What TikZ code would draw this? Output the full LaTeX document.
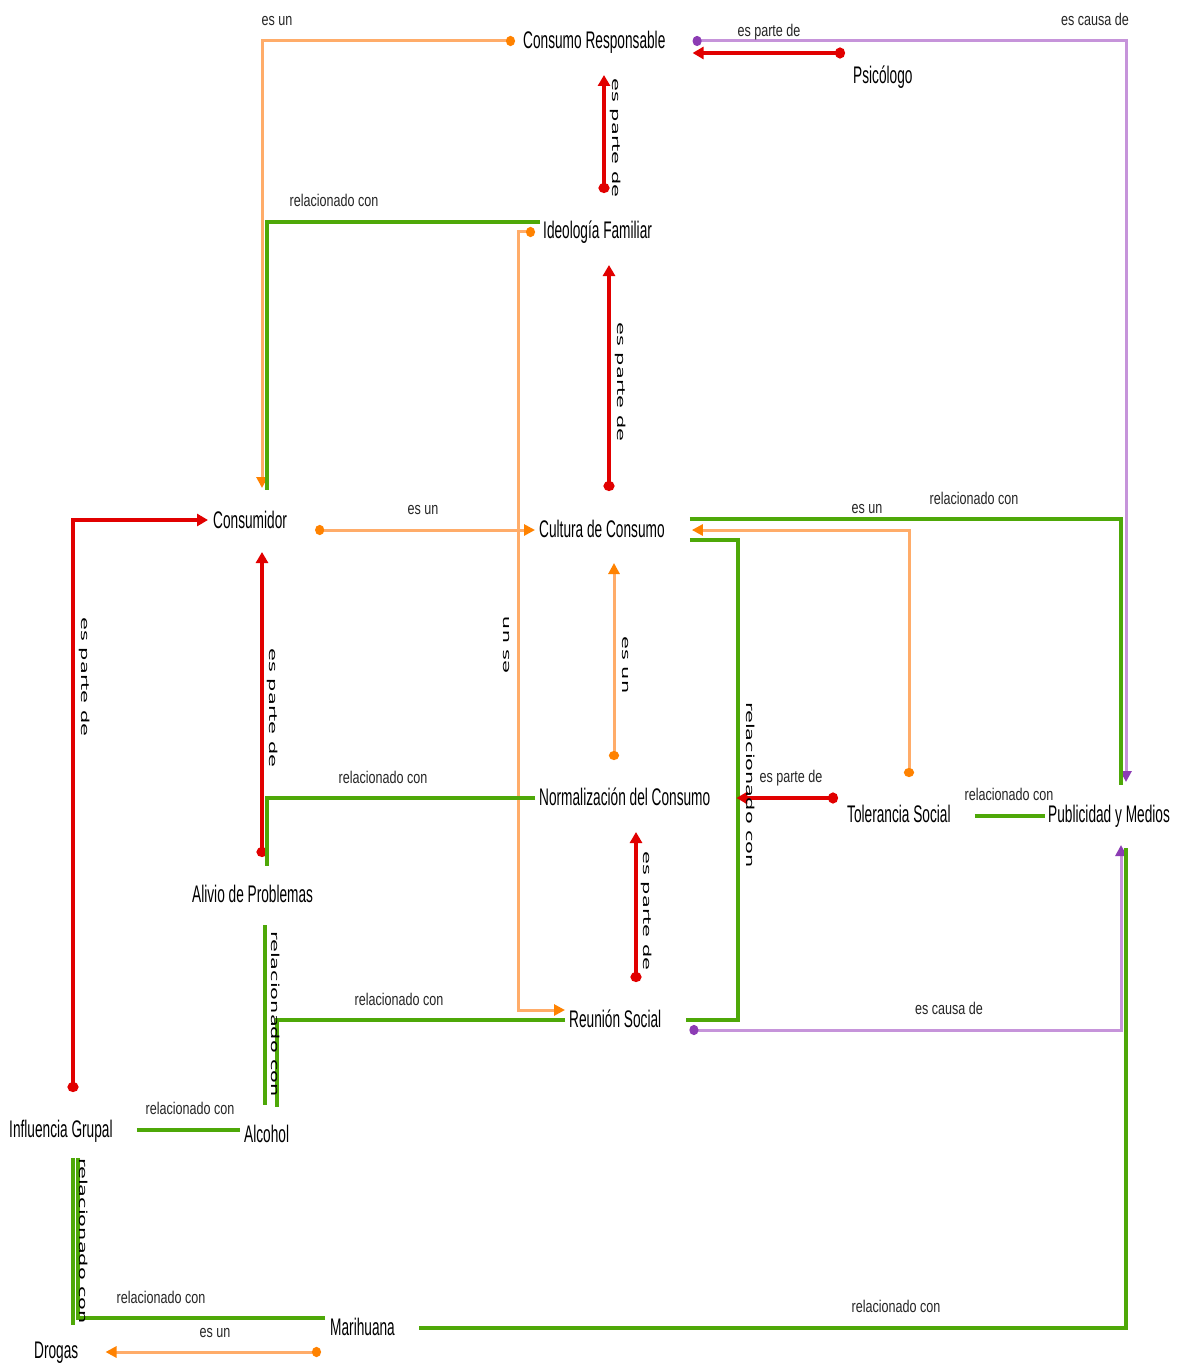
\documentclass[tikz,border=0pt]{standalone}
\usepackage{fontspec}
\setmainfont{Liberation Sans}
\newfontfamily\nodefont[FakeStretch=0.57]{Liberation Sans}
\newfontfamily\labfont[FakeStretch=0.74]{Liberation Sans}
\newfontfamily\rotfont[FakeStretch=1.9]{DejaVu Sans}
\usetikzlibrary{arrows.meta,calc}
\definecolor{cgreen}{RGB}{78,168,8}
\definecolor{cred}{RGB}{225,0,0}
\definecolor{corange}{RGB}{255,172,105}
\definecolor{codark}{RGB}{255,130,0}
\definecolor{cpurple}{RGB}{198,148,218}
\definecolor{cpdark}{RGB}{140,60,180}
\tikzset{
  concept/.style={inner sep=0pt, anchor=base west, font=\nodefont\fontsize{24}{28}\selectfont, text=black},
  elabel/.style={inner sep=0pt, anchor=base, font=\labfont\fontsize{17}{20}\selectfont, text=black!85},
  rlabel/.style={inner sep=0pt, font=\rotfont\fontsize{11}{13}\selectfont, rotate=-90, text=black},
  relg/.style={draw=cgreen, line width=4pt},
  partr/.style={draw=cred, line width=3.2pt, {Circle[length=10pt,width=11pt]}-{Triangle[length=11pt,width=12pt]}},
  esun/.style={draw=corange, line width=3pt, {Circle[length=9pt,width=10pt,color=codark]}-{Triangle[length=11pt,width=11pt,color=codark]}},
  causa/.style={draw=cpurple, line width=3pt, {Circle[length=9pt,width=10pt,color=cpdark]}-{Triangle[length=11pt,width=11pt,color=cpdark]}},
}
\begin{document}
\begin{tikzpicture}[x=1pt,y=-1pt]
\fill[white] (0,0) rectangle (1179,1364);
\useasboundingbox (0,0) rectangle (1179,1364);

% concepts
\node[concept] (cr) at (523,49) {Consumo Responsable};
\node[concept] (psi) at (853,84) {Psicólogo};
\node[concept] (ideo) at (543,239) {Ideología Familiar};
\node[concept] (cons) at (213,528) {Consumidor};
\node[concept] (cult) at (539,537) {Cultura de Consumo};
\node[concept] (norm) at (539,805) {Normalización del Consumo};
\node[concept] (tol) at (847,822) {Tolerancia Social};
\node[concept] (pub) at (1048,822) {Publicidad y Medios};
\node[concept] (aliv) at (192,902) {Alivio de Problemas};
\node[concept] (reun) at (569,1027) {Reunión Social};
\node[concept] (infl) at (9,1137) {Influencia Grupal};
\node[concept] (alc) at (244,1142) {Alcohol};
\node[concept] (mari) at (330,1335) {Marihuana};
\node[concept] (drog) at (34,1358) {Drogas};

% connectors
\draw[esun] ([shift={(-8,-8)}]cr.base west) -| ([shift={(49,-40)}]cons.base west);
\draw[partr] ([shift={(61,-46)}]ideo.base west) -- ([shift={(81,26)}]cr.base west);
\draw[causa] ([shift={(27,-8)}]cr.base east) -| ([shift={(78,-40)}]pub.base west);
\draw[partr] ([shift={(-8,-31)}]psi.base west) -- ([shift={(27,4)}]cr.base east);
\draw[relg] ([shift={(-3,-17)}]ideo.base west) -| ([shift={(54,-38)}]cons.base west);
\draw[esun] ([shift={(-8,-7)}]ideo.base west) -- ++(-17,0) |- ([shift={(-4,-17)}]reun.base west);
\draw[partr] ([shift={(70,-46)}]cult.base west) -- ([shift={(66,26)}]ideo.base west);
\draw[esun] ([shift={(28,2)}]cons.base east) -- ([shift={(-4,-7)}]cult.base west);
\draw[partr] ([shift={(64,-45)}]infl.base west) |- ([shift={(-5,-8)}]cons.base west);
\draw[partr] ([shift={(70,-45)}]aliv.base west) -- ([shift={(49,24)}]cons.base west);
\draw[relg] ([shift={(25,-18)}]cult.base east) -| ([shift={(73,-37)}]pub.base west);
\draw[esun] ([shift={(62,-45)}]tol.base west) |- ([shift={(27,-7)}]cult.base east);
\draw[relg] ([shift={(25,3)}]cult.base east) -- ++(48,0) |- ([shift={(25,-7)}]reun.base east);
\draw[esun] ([shift={(75,-45)}]norm.base west) -- ([shift={(75,26)}]cult.base west);
\draw[relg] ([shift={(-4,-7)}]norm.base west) -| ([shift={(75,-36)}]aliv.base west);
\draw[partr] ([shift={(-9,-24)}]tol.base west) -- ([shift={(26,-7)}]norm.base east);
\draw[partr] ([shift={(67,-45)}]reun.base west) -- ([shift={(97,27)}]norm.base west);
\draw[relg] ([shift={(24,-6)}]tol.base east) -- ([shift={(-3,-6)}]pub.base west);
\draw[causa] ([shift={(28,3)}]reun.base east) -| ([shift={(73,23)}]pub.base west);
\draw[relg] ([shift={(73,23)}]aliv.base west) -- ([shift={(21,-37)}]alc.base west);
\draw[relg] ([shift={(-4,-7)}]reun.base west) -| ([shift={(33,-35)}]alc.base west);
\draw[relg] ([shift={(24,-7)}]infl.base east) -- ([shift={(-4,-12)}]alc.base west);
\draw[relg] ([shift={(64,21)}]infl.base west) -- ([shift={(39,-33)}]drog.base west);
\draw[relg] ([shift={(-5,-17)}]mari.base west) -| ([shift={(69,21)}]infl.base west);
\draw[esun] ([shift={(-9,17)}]mari.base west) -- ([shift={(27,-6)}]drog.base east);
\draw[relg] ([shift={(24,-7)}]mari.base east) -| ([shift={(78,26)}]pub.base west);

% horizontal labels
\node[elabel] (l1) at (277,26) {es un};
\node[elabel] (l2) at (334,207) {relacionado con};
\node[elabel] (l3) at (769,37) {es parte de};
\node[elabel] (l4) at (1095,26) {es causa de};
\node[elabel] (l5) at (423,514) {es un};
\node[elabel] (l6) at (867,513) {es un};
\node[elabel] (l7) at (974,504) {relacionado con};
\node[elabel] (l8) at (383,783) {relacionado con};
\node[elabel] (l9) at (791,782) {es parte de};
\node[elabel] (l10) at (1009,800) {relacionado con};
\node[elabel] (l11) at (399,1005) {relacionado con};
\node[elabel] (l12) at (949,1014) {es causa de};
\node[elabel] (l13) at (190,1114) {relacionado con};
\node[elabel] (l14) at (161,1303) {relacionado con};
\node[elabel] (l15) at (215,1337) {es un};
\node[elabel] (l16) at (896,1312) {relacionado con};

% rotated labels
\node[rlabel] (r1) at (616,138) {es parte de};
\node[rlabel] (r2) at (621,382) {es parte de};
\node[rlabel] (r3) at (85,677) {es parte de};
\node[rlabel] (r4) at (273,708) {es parte de};
\node[rlabel, rotate=180] (r5) at (506,645) {es un};
\node[rlabel] (r6) at (625,665) {es un};
\node[rlabel] (r7) at (751,785) {relacionado con};
\node[rlabel] (r8) at (647,911) {es parte de};
\node[rlabel] (r9) at (276,1014) {relacionado con};
\node[rlabel] (r10) at (84,1241) {relacionado con};
\end{tikzpicture}
\end{document}
